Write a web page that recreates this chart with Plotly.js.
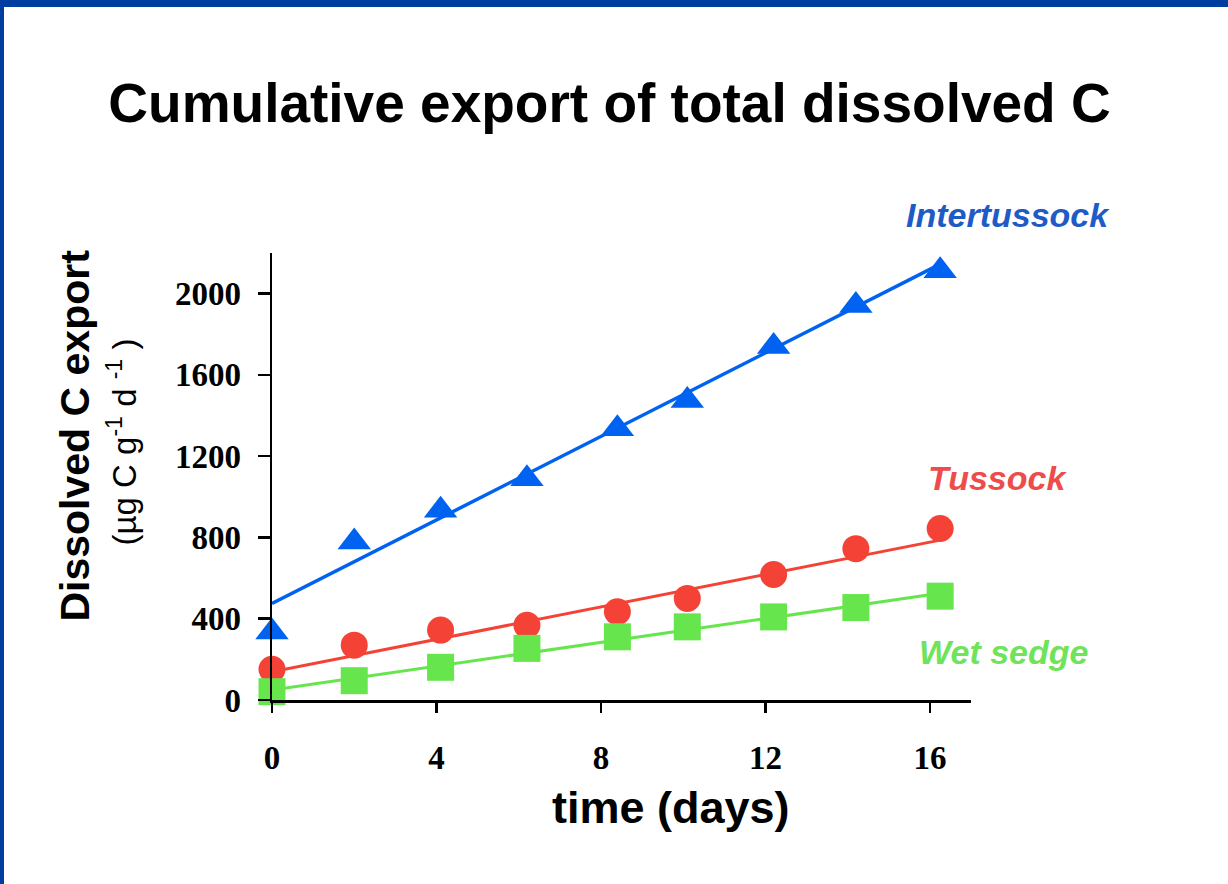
<!DOCTYPE html>
<html>
<head>
<meta charset="utf-8">
<script src="https://cdn.plot.ly/plotly-3.0.1.min.js"></script>
<style>
  html, body { margin: 0; padding: 0; background: #ffffff; }
  #frame {
    width: 1228px; height: 884px; box-sizing: border-box;
    border-top: 7px solid #003DA0; border-left: 4px solid #003DA0;
    background: #ffffff; overflow: hidden;
  }
  #chart { width: 1224px; height: 877px; }
</style>
</head>
<body>
<div id="frame"><div id="chart"></div></div>
<script>
// ---- data ----
const days = [0, 2, 4.1, 6.2, 8.4, 10.1, 12.2, 14.2, 16.25];
const intertussock = [335, 778, 934, 1089, 1335, 1474, 1740, 1941, 2113];
const tussock = [151, 270, 344, 368, 434, 500, 618, 745, 844];
const wetSedge = [41, 95, 161, 254, 311, 360, 409, 455, 511];

// fitted regression lines (values read at the start and end day)
const fitDays = [0, 16.25];
const intertussockFit = [475, 2145];
const tussockFit = [139, 787];
const wetSedgeFit = [49, 525];

const seriesNames = ['Intertussock', 'Tussock', 'Wet sedge'];
const xTicks = [0, 4, 8, 12, 16];
const yTicks = [0, 400, 800, 1200, 1600, 2000];

const blue = '#0062F0', red = '#F44336', green = '#66E64C';

const traces = [
  {x: fitDays, y: intertussockFit, mode: 'lines', line: {color: blue, width: 3.5}, hoverinfo: 'skip', cliponaxis: false},
  {x: days, y: intertussock, name: seriesNames[0], mode: 'markers', cliponaxis: false,
   marker: {symbol: 'triangle-up', size: 29, color: blue}},
  {x: fitDays, y: tussockFit, mode: 'lines', line: {color: red, width: 3}, hoverinfo: 'skip', cliponaxis: false},
  {x: days, y: tussock, name: seriesNames[1], mode: 'markers', cliponaxis: false,
   marker: {symbol: 'circle', size: 27, color: red}},
  {x: fitDays, y: wetSedgeFit, mode: 'lines', line: {color: green, width: 3}, hoverinfo: 'skip', cliponaxis: false},
  {x: days, y: wetSedge, name: seriesNames[2], mode: 'markers', cliponaxis: false,
   marker: {symbol: 'square', size: 27, color: green}}
];

const tickFont = {family: 'Liberation Serif, Times New Roman, serif', size: 33, color: '#000', weight: 'bold'};
const sans = 'Liberation Sans, Arial, sans-serif';

const layout = {
  width: 1224, height: 877,
  margin: {l: 268, r: 257, t: 246, b: 184},
  paper_bgcolor: '#ffffff', plot_bgcolor: '#ffffff',
  showlegend: false,
  title: {
    text: 'Cumulative export of total dissolved C',
    font: {family: sans, size: 55, color: '#000', weight: 'bold'},
    xref: 'container', yref: 'container',
    x: 0.4947, xanchor: 'center', y: 0.8905, yanchor: 'middle'
  },
  xaxis: {
    range: [0, 17], tickvals: xTicks, ticktext: xTicks.map(String),
    showline: true, linecolor: '#000', linewidth: 2.5,
    ticks: 'outside', ticklen: 10, tickwidth: 2.5, tickcolor: '#000',
    showgrid: false, zeroline: false, tickfont: tickFont,
    ticklabelstandoff: 17
  },
  yaxis: {
    range: [0, 2200], tickvals: yTicks, ticktext: yTicks.map(String),
    showline: true, linecolor: '#000', linewidth: 2.5,
    ticks: 'outside', ticklen: 12, tickwidth: 2.5, tickcolor: '#000',
    showgrid: false, zeroline: false, tickfont: tickFont,
    ticklabelstandoff: 10
  },
  annotations: [
    {text: 'Dissolved C export', xref: 'paper', yref: 'paper', x: -0.2825, y: 0.5906,
     textangle: -90, showarrow: false, xanchor: 'center', yanchor: 'middle',
     font: {family: sans, size: 41, color: '#000', weight: 'bold'}},
    {text: '(µg C g<sup>-1</sup> d <sup>-1</sup> )', xref: 'paper', yref: 'paper', x: -0.2139, y: 0.5772,
     textangle: -90, showarrow: false, xanchor: 'center', yanchor: 'middle',
     font: {family: sans, size: 33, color: '#000'}},
    {text: 'time (days)', xref: 'paper', yref: 'paper', x: 0.5715, y: -0.2416,
     showarrow: false, xanchor: 'center', yanchor: 'middle',
     font: {family: sans, size: 45, color: '#000', weight: 'bold'}},
    {text: '<i>' + seriesNames[0] + '</i>', xref: 'paper', yref: 'paper', x: 1.0536, y: 1.085,
     showarrow: false, xanchor: 'center', yanchor: 'middle',
     font: {family: sans, size: 34, color: '#1F5BC6', weight: 'bold'}},
    {text: '<i>' + seriesNames[1] + '</i>', xref: 'paper', yref: 'paper', x: 1.0386, y: 0.4966,
     showarrow: false, xanchor: 'center', yanchor: 'middle',
     font: {family: sans, size: 34, color: '#EE4B4B', weight: 'bold'}},
    {text: '<i>' + seriesNames[2] + '</i>', xref: 'paper', yref: 'paper', x: 1.0472, y: 0.1074,
     showarrow: false, xanchor: 'center', yanchor: 'middle',
     font: {family: sans, size: 34, color: '#6FE35A', weight: 'bold'}}
  ]
};

Plotly.newPlot('chart', traces, layout, {staticPlot: true, displayModeBar: false});
</script>
</body>
</html>
